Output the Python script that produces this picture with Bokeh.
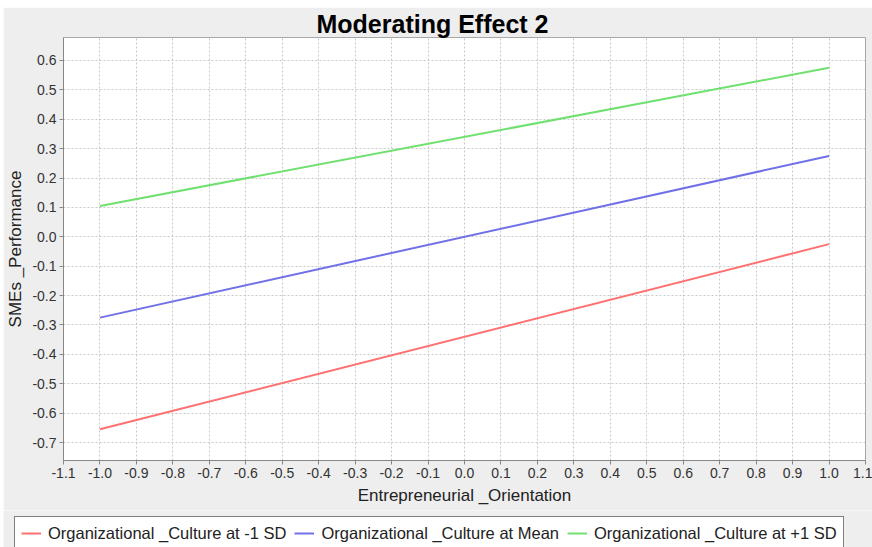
from bokeh.plotting import figure
from bokeh.layouts import column
from bokeh.models import Range1d, FixedTicker, NumeralTickFormatter, Legend, LegendItem
from bokeh.embed import file_html
from bokeh.resources import INLINE

# ---- data ----
x_vals = [-1.0, 1.0]
low_sd = [-0.655, -0.025]     # Organizational _Culture at -1 SD
mean_vals = [-0.275, 0.275]   # Organizational _Culture at Mean
high_sd = [0.105, 0.575]      # Organizational _Culture at +1 SD
series_names = ["Organizational _Culture at -1 SD",
                "Organizational _Culture at Mean",
                "Organizational _Culture at +1 SD"]
x_ticks = [-1.1, -1.0, -0.9, -0.8, -0.7, -0.6, -0.5, -0.4, -0.3, -0.2, -0.1, 0.0,
           0.1, 0.2, 0.3, 0.4, 0.5, 0.6, 0.7, 0.8, 0.9, 1.0, 1.1]
y_ticks = [-0.7, -0.6, -0.5, -0.4, -0.3, -0.2, -0.1, 0.0, 0.1, 0.2, 0.3, 0.4, 0.5, 0.6]

FONT = "Liberation Sans"
BG = "#eeeeee"
colors = ["#ff7070", "#7070e8", "#70e070"]

p = figure(width=869, height=503, margin=(7, 0, 0, 3),
           output_backend="svg", toolbar_location=None,
           x_range=Range1d(-1.1, 1.1), y_range=Range1d(-0.761, 0.678),
           min_border_left=57, min_border_right=7, min_border_top=30, min_border_bottom=50,
           background_fill_color="white", border_fill_color=BG,
           outline_line_color="#a8a8a8")

p.title.text = "Moderating Effect 2"
p.title.text_font = FONT
p.title.text_font_size = "25px"
p.title.text_font_style = "bold"
p.title.text_color = "black"
p.title.align = "left"
p.title.offset = 253
p.title.standoff = 0

for ys, c in zip([low_sd, mean_vals, high_sd], colors):
    p.line(x_vals, ys, line_color=c, line_width=2)

for ax in (p.xaxis[0], p.yaxis[0]):
    ax.axis_line_color = "#888888"
    ax.major_tick_line_color = "#888888"
    ax.major_tick_out = 4
    ax.major_tick_in = 0
    ax.minor_tick_line_color = None
    ax.major_label_text_font = FONT
    ax.major_label_text_font_size = "14px"
    ax.major_label_text_color = "#333333"
    ax.axis_label_text_font = FONT
    ax.axis_label_text_font_size = "17px"
    ax.axis_label_text_font_style = "normal"
    ax.axis_label_text_color = "#222222"
    ax.major_label_standoff = 3
    ax.formatter = NumeralTickFormatter(format="0.0")

p.xaxis[0].ticker = FixedTicker(ticks=x_ticks)
p.yaxis[0].ticker = FixedTicker(ticks=y_ticks)
p.xaxis[0].axis_label = "Entrepreneurial _Orientation"
p.yaxis[0].axis_label = "SMEs _Performance"
p.xaxis[0].axis_label_standoff = 5
p.yaxis[0].axis_label_standoff = 4

for g in (p.xgrid[0], p.ygrid[0]):
    g.grid_line_color = "#c8c8c8"
    g.grid_line_dash = "2 2"
    g.grid_line_width = 1

# ---- legend strip (separate figure so the legend can span the full width) ----
p2 = figure(width=869, height=37, margin=(0, 0, 0, 3),
            output_backend="svg", toolbar_location=None,
            x_range=Range1d(10, 11), y_range=Range1d(10, 11),
            x_axis_location=None, y_axis_location=None,
            min_border_left=0, min_border_right=0, min_border_top=0, min_border_bottom=0,
            background_fill_color=BG, border_fill_color=BG, outline_line_color=None)
try:
    p2.frame_align = False
    p.frame_align = False
except Exception:
    pass
p2.grid.visible = False
# legend proxies: same series, drawn outside this strip's visible range
legend_renderers = [p2.line(x_vals, ys, line_color=c, line_width=2)
                    for ys, c in zip([low_sd, mean_vals, high_sd], colors)]

legend = Legend(items=[LegendItem(label=n, renderers=[r]) for n, r in zip(series_names, legend_renderers)],
                orientation="horizontal", location=(11, -3),
                label_text_font=FONT, label_text_font_size="16.5px", label_text_color="#222222",
                glyph_width=20, glyph_height=20, label_standoff=7, spacing=8, padding=6,
                border_line_color="black", border_line_width=1, background_fill_color="white",
                background_fill_alpha=1.0, margin=0)
p2.add_layout(legend, "center")

layout = column(p, p2, spacing=0)
open("out.html", "w").write(file_html(layout, INLINE))
